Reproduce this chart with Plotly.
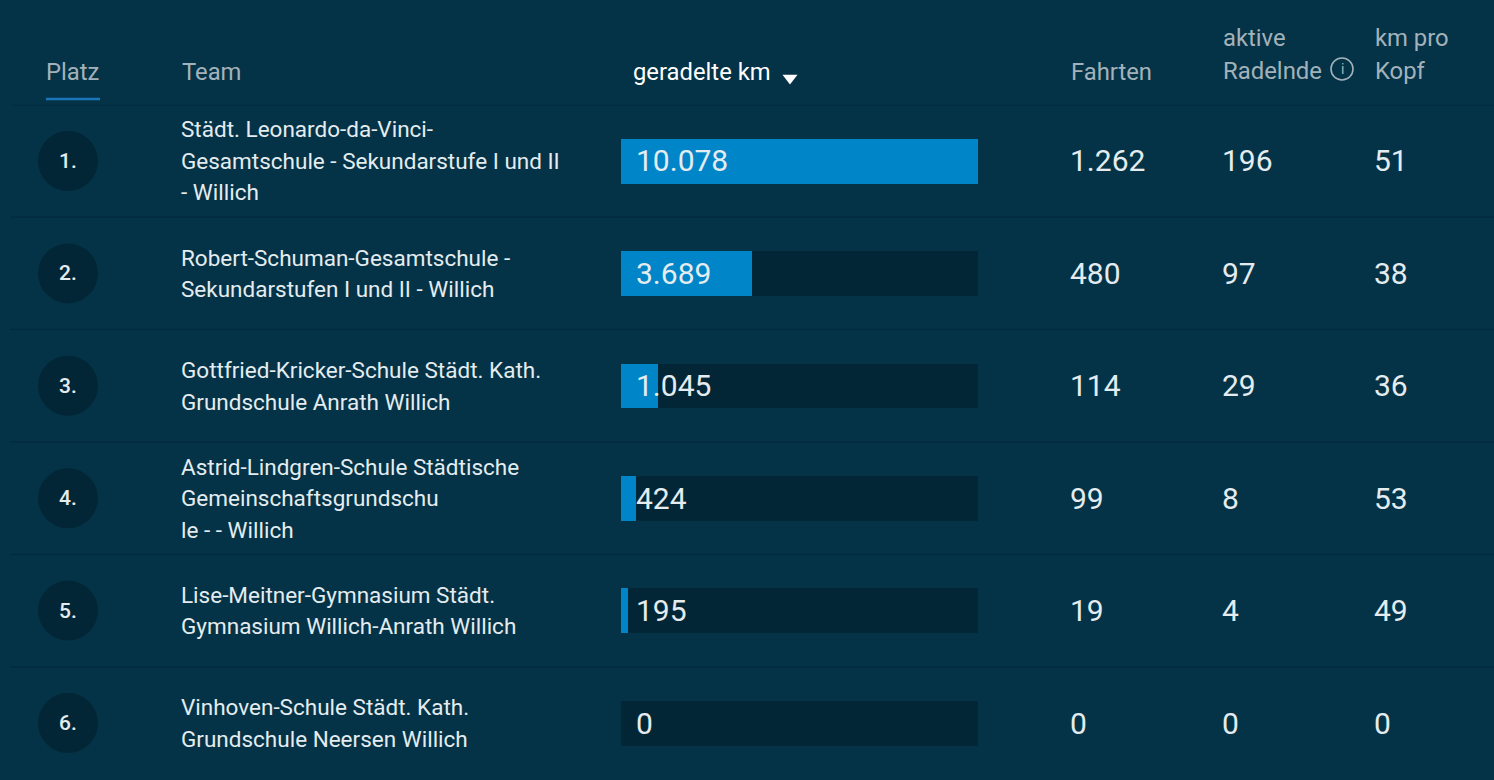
# Rangliste Stadtradeln Willich - Tabelle mit Balken
import plotly.graph_objects as go

# data
plaetze = ['1.', '2.', '3.', '4.', '5.', '6.']
teams = [
    ['Städt. Leonardo-da-Vinci-', 'Gesamtschule - Sekundarstufe I und II', '- Willich'],
    ['Robert-Schuman-Gesamtschule -', 'Sekundarstufen I und II - Willich'],
    ['Gottfried-Kricker-Schule Städt. Kath.', 'Grundschule Anrath Willich'],
    ['Astrid-Lindgren-Schule Städtische', 'Gemeinschaftsgrundschu', 'le - - Willich'],
    ['Lise-Meitner-Gymnasium Städt.', 'Gymnasium Willich-Anrath Willich'],
    ['Vinhoven-Schule Städt. Kath.', 'Grundschule Neersen Willich'],
]
km = [10078, 3689, 1045, 424, 195, 0]
fahrten = [1262, 480, 114, 99, 19, 0]
radelnde = [196, 97, 29, 8, 4, 0]
km_pro_kopf = [51, 38, 36, 53, 49, 0]

W, H = 1494, 780
BG = '#043347'
TRACK = '#032636'
BLUE = '#0085c8'
TEXT = '#e4ecef'
HEAD = '#a3b2ba'
LINE = '#032b3f'


def de(n):
    # deutscher Tausenderpunkt
    return f'{n:,}'.replace(',', '.')


fig = go.Figure()

# Balken
fig.add_trace(go.Bar(x=[max(km)] * len(km), y=plaetze, orientation='h', width=0.4,
                     marker=dict(color=TRACK, line_width=0), hoverinfo='skip'))
fig.add_trace(go.Bar(x=km, y=plaetze, orientation='h', width=0.4,
                     marker=dict(color=BLUE, line_width=0)))

# Kreise fuer die Platzierung
fig.add_trace(go.Scatter(x=[68] * len(plaetze), y=plaetze, mode='markers', xaxis='x2', yaxis='y',
                         marker=dict(size=60, color=TRACK, line_width=0), hoverinfo='skip'))

# Sortierpfeil und Info-Symbol im Kopf
fig.add_trace(go.Scatter(x=[790], y=[78], mode='markers', xaxis='x2', yaxis='y2',
                         marker=dict(symbol='triangle-down', size=13, color='white', line_width=0),
                         hoverinfo='skip'))
fig.add_trace(go.Scatter(x=[1342], y=[69], mode='markers', xaxis='x2', yaxis='y2',
                         marker=dict(size=22, color='rgba(0,0,0,0)', line=dict(color=HEAD, width=1.6)),
                         hoverinfo='skip'))


def cell(x, y, s, size, color=TEXT, yref='y', yshift=0, anchor='left', weight=400):
    fig.add_annotation(x=x, y=y, text=s, xref='x2', yref=yref, xanchor=anchor, yanchor='middle',
                       yshift=yshift, showarrow=False, borderpad=0,
                       font=dict(family='Roboto', size=size, color=color, weight=weight))


# Kopfzeile
cell(45, 72, 'Platz', 23.8, HEAD, 'y2')
cell(181, 72, 'Team', 23.8, HEAD, 'y2')
cell(632, 72, 'geradelte km', 23.8, 'white', 'y2')
cell(1070, 72, 'Fahrten', 23.8, HEAD, 'y2')
cell(1222, 38, 'aktive', 23.8, HEAD, 'y2')
cell(1222, 71, 'Radelnde', 23.9, HEAD, 'y2')
cell(1342, 69, 'i', 14, HEAD, 'y2', anchor='center')
cell(1374, 38, 'km pro', 23.8, HEAD, 'y2')
cell(1374, 71, 'Kopf', 23.8, HEAD, 'y2')

# Zeilen (Annotationen brauchen den Index, '1.' wuerde sonst als Zahl gelesen)
for i, p in enumerate(plaetze):
    cell(68, i, p, 21, TEXT, anchor='center', weight=500)
    n = len(teams[i])
    for j, zeile in enumerate(teams[i]):
        cell(180, i, zeile, 22.5, TEXT, yshift=((n - 1) / 2 - j) * 31.5)
    cell(635, i, de(km[i]), 30)
    cell(1069, i, de(fahrten[i]), 30)
    cell(1221, i, de(radelnde[i]), 30)
    cell(1373, i, de(km_pro_kopf[i]), 30)

# Trennlinien
for i in range(len(plaetze)):
    fig.add_shape(type='line', xref='paper', yref='y', x0=10 / W, x1=1, y0=i - 0.5, y1=i - 0.5,
                  line=dict(color=LINE, width=1.5), layer='below')

# aktiver Reiter
fig.add_shape(type='line', xref='x2', yref='y2', x0=46, x1=100, y0=99, y1=99,
              line=dict(color='#1b76b8', width=2.5))

hidden = dict(visible=False, showgrid=False, zeroline=False, fixedrange=True)
fig.update_layout(
    width=W, height=H,
    margin=dict(l=0, r=0, t=0, b=0),
    paper_bgcolor=BG, plot_bgcolor='rgba(0,0,0,0)',
    barmode='overlay', bargap=0, showlegend=False,
    xaxis=dict(domain=[621 / W, 978 / W], range=[0, max(km)], **hidden),
    yaxis=dict(domain=[0.8 / H, (H - 104.8) / H], type='category', categoryorder='array',
               categoryarray=plaetze, range=[5.5, -0.5], **hidden),
    xaxis2=dict(domain=[0, 1], range=[0, W], anchor='y2', **hidden),
    yaxis2=dict(domain=[0, 1], range=[H, 0], anchor='x2', **hidden),
)

# Seitenrand weg, sonst sitzt das Bild 8px versetzt
fig.write_html('out.html', config={'displayModeBar': False},
               post_script="document.body.style.margin='0';document.body.style.background='%s';" % BG)
